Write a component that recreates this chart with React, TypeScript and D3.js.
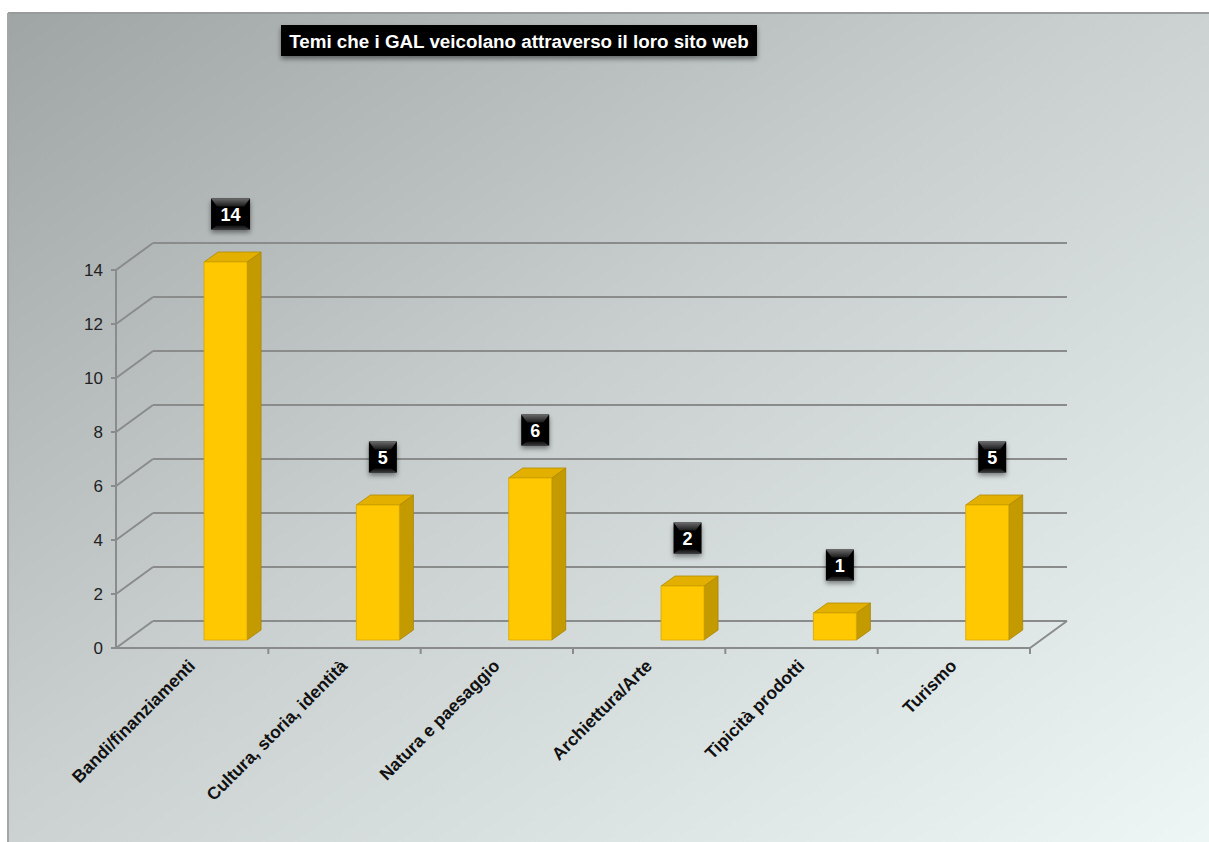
import React from "react";
import * as d3 from "d3";

const title = "Temi che i GAL veicolano attraverso il loro sito web";
const categories = [
  "Bandi/finanziamenti",
  "Cultura, storia, identità",
  "Natura e paesaggio",
  "Archiettura/Arte",
  "Tipicità prodotti",
  "Turismo",
];
const values = [14, 5, 6, 2, 1, 5];
const yTicks = [0, 2, 4, 6, 8, 10, 12, 14];

const W = 1209;
const H = 842;
// 3D frame geometry
const frontLeft = 116;
const frontRight = 1030;
const frontBottom = 648;
const depthX = 37;
const depthY = -27;
const unit = 27;

export default function App() {
  const x = d3.scaleBand<string>().domain(categories).range([frontLeft, frontRight]).padding(0);
  const bw = x.bandwidth();
  const yFront = d3.scaleLinear().domain([0, 14]).range([frontBottom, frontBottom - 14 * unit]);
  const yBack = (v: number) => yFront(v) + depthY;
  const barBase = frontBottom - 8;
  const yBar = d3.scaleLinear().domain([0, 14]).range([barBase, barBase - 14 * unit]);
  const barW = 43;
  const bdx = 14;
  const bdy = -10;
  const grid = "#8a8b8b";
  const font = "Arial, 'Liberation Sans', Helvetica, sans-serif";

  return (
    <svg
      width={W}
      height={H}
      style={{ position: "absolute", left: 0, top: 0, display: "block" }}
      fontFamily={font}
    >
      <defs>
        <linearGradient id="bg" x1="0" y1="0" x2="1" y2="1">
          <stop offset="0" stopColor="#9fa4a5" />
          <stop offset="0.45" stopColor="#c9cfcf" />
          <stop offset="1" stopColor="#eef6f6" />
        </linearGradient>
        <linearGradient id="bevelTop" x1="0" y1="0" x2="0" y2="1">
          <stop offset="0" stopColor="#6a6a6a" />
          <stop offset="1" stopColor="#1a1a1a" />
        </linearGradient>
        <linearGradient id="bevelBot" x1="0" y1="0" x2="0" y2="1">
          <stop offset="0" stopColor="#111" />
          <stop offset="1" stopColor="#3a3a3a" />
        </linearGradient>
        <filter id="shadow" x="-20%" y="-30%" width="140%" height="180%">
          <feDropShadow dx="0" dy="3" stdDeviation="2.5" floodColor="#000" floodOpacity="0.45" />
        </filter>
      </defs>
      <rect x={0} y={0} width={W} height={H} fill="#ffffff" />
      <rect x={8} y={13} width={W} height={H} fill="url(#bg)" />
      <line x1={8} y1={13} x2={W} y2={13} stroke="#9a9a9a" strokeWidth={2} />
      <line x1={8} y1={13} x2={8} y2={H} stroke="#a5a5a5" strokeWidth={2} />

      {/* back wall gridlines */}
      {yTicks.map((t) => (
        <line
          key={"b" + t}
          x1={frontLeft + depthX}
          x2={frontRight + depthX}
          y1={yBack(t)}
          y2={yBack(t)}
          stroke={grid}
          strokeWidth={2}
        />
      ))}
      {/* side wall diagonals */}
      {yTicks.map((t) => (
        <line
          key={"d" + t}
          x1={frontLeft}
          y1={yFront(t)}
          x2={frontLeft + depthX}
          y2={yBack(t)}
          stroke={grid}
          strokeWidth={2}
        />
      ))}
      {/* vertical axis */}
      <line x1={frontLeft} x2={frontLeft} y1={yFront(0)} y2={yFront(14)} stroke={grid} strokeWidth={2} />
      {yTicks.map((t) => (
        <line key={"t" + t} x1={frontLeft - 5} x2={frontLeft} y1={yFront(t)} y2={yFront(t)} stroke={grid} strokeWidth={2} />
      ))}
      {yTicks.map((t) => (
        <text
          key={"l" + t}
          x={frontLeft - 13}
          y={yFront(t)}
          dy="0.36em"
          textAnchor="end"
          fontSize={17}
          fill="#222"
        >
          {t}
        </text>
      ))}
      {/* floor */}
      <line x1={frontLeft} x2={frontRight} y1={frontBottom} y2={frontBottom} stroke={grid} strokeWidth={2} />
      <line
        x1={frontRight}
        y1={frontBottom}
        x2={frontRight + depthX}
        y2={frontBottom + depthY}
        stroke={grid}
        strokeWidth={2}
      />
      {categories.map((c) => (
        <line
          key={"ct" + c}
          x1={(x(c) as number) + bw}
          x2={(x(c) as number) + bw}
          y1={frontBottom}
          y2={frontBottom + 6}
          stroke={grid}
          strokeWidth={2}
        />
      ))}

      {/* bars */}
      {categories.map((c, i) => {
        const v = values[i];
        const x0 = (x(c) as number) + bw * 0.578;
        const yt = yBar(v);
        const yb = yBar(0);
        const front = `M${x0},${yt}H${x0 + barW}V${yb}H${x0}Z`;
        const side = `M${x0 + barW},${yt}L${x0 + barW + bdx},${yt + bdy}V${yb + bdy}L${x0 + barW},${yb}Z`;
        const top = `M${x0},${yt}L${x0 + bdx},${yt + bdy}H${x0 + barW + bdx}L${x0 + barW},${yt}Z`;
        return (
          <g key={"bar" + c}>
            <path d={side} fill="#c39a00" stroke="#a88400" strokeWidth={0.8} />
            <path d={top} fill="#e3b000" stroke="#b08c00" strokeWidth={0.8} />
            <path d={front} fill="#ffc800" stroke="#d4a600" strokeWidth={0.8} />
          </g>
        );
      })}

      {/* data labels */}
      {categories.map((c, i) => {
        const v = values[i];
        const label = String(v);
        const w = label.length > 1 ? 39 : 28;
        const h = 31;
        const cx = (x(c) as number) + bw * 0.578 + barW / 2 + 5;
        const cy = yBar(v) - 8 - 40;
        const lx = cx - w / 2;
        const ly = cy - h / 2;
        const b = 6;
        return (
          <g key={"dl" + c} transform={`translate(${lx},${ly})`}>
            <rect width={w} height={h} fill="#050505" filter="url(#shadow)" />
            <path d={`M0,0H${w}L${w - b},${b + 2}H${b}Z`} fill="url(#bevelTop)" />
            <path d={`M0,${h}H${w}L${w - b},${h - b + 2}H${b}Z`} fill="url(#bevelBot)" />
            <text
              x={w / 2}
              y={h / 2 + 1}
              dy="0.36em"
              textAnchor="middle"
              fontSize={18}
              fontWeight="bold"
              fill="#ffffff"
            >
              {label}
            </text>
          </g>
        );
      })}

      {/* category labels */}
      {categories.map((c) => {
        const px = (x(c) as number) + bw / 2 + 4;
        const py = frontBottom + 19;
        return (
          <text
            key={"cl" + c}
            transform={`translate(${px},${py}) rotate(-45)`}
            textAnchor="end"
            fontSize={17.5}
            fontWeight="bold"
            fill="#111"
          >
            {c}
          </text>
        );
      })}

      {/* title */}
      <g>
        <rect x={281} y={25} width={476} height={31} fill="#000" filter="url(#shadow)" />
        <text x={519} y={41} dy="0.36em" textAnchor="middle" fontSize={18.8} fontWeight="bold" fill="#fff">
          {title}
        </text>
      </g>
    </svg>
  );
}
